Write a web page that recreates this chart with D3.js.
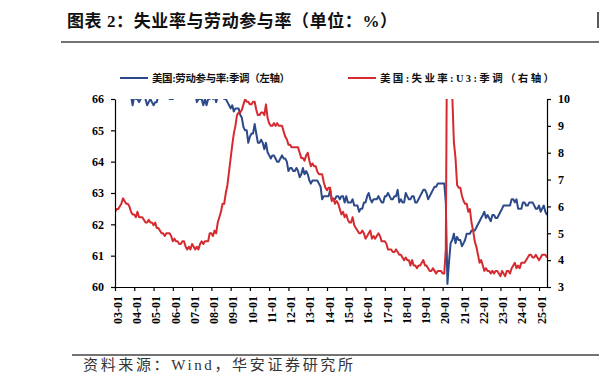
<!DOCTYPE html>
<html><head><meta charset="utf-8">
<script src="https://cdn.jsdelivr.net/npm/d3@7"></script>
<style>
body{margin:0;background:#fff;}
svg{display:block;}
</style></head>
<body>
<svg id="c" width="599" height="392"></svg>
<script>
const startYear = 2003, startMonth = 0;
const tickYears = d3.range(2003, 2026);
// US Labor force participation rate, SA (%), monthly from 2003-01
const lfpr = [
66.4,66.4,66.3,66.4,66.4,66.5,66.2,66.1,66.1,66.1,66.1,65.8,
66.1,66.0,66.0,65.9,66.0,66.1,66.1,66.0,65.8,65.9,66.0,65.9,
65.8,65.9,65.9,66.1,66.1,66.1,66.1,66.2,66.1,66.1,66.0,66.0,
66.0,66.1,66.2,66.1,66.1,66.2,66.1,66.2,66.1,66.2,66.3,66.4,
66.4,66.3,66.2,65.9,66.0,66.0,66.0,65.8,66.0,65.8,66.0,66.0,
66.2,66.0,66.1,65.9,66.1,66.1,66.1,66.1,66.0,66.0,65.9,65.8,
65.7,65.8,65.6,65.7,65.7,65.7,65.5,65.4,65.1,65.0,65.0,64.6,
64.8,64.9,64.9,65.2,64.9,64.6,64.6,64.7,64.6,64.4,64.6,64.3,
64.2,64.1,64.2,64.2,64.1,64.0,64.0,64.1,64.2,64.1,64.1,64.0,
63.7,63.8,63.8,63.7,63.7,63.8,63.7,63.5,63.6,63.8,63.6,63.7,
63.6,63.4,63.3,63.4,63.4,63.4,63.4,63.3,63.2,62.8,62.9,62.9,
62.9,62.9,63.1,62.8,62.8,62.8,62.9,62.9,62.8,62.9,62.9,62.7,
62.9,62.7,62.7,62.7,62.8,62.6,62.6,62.6,62.4,62.5,62.5,62.7,
62.7,62.9,63.0,62.8,62.7,62.8,62.8,62.8,62.9,62.8,62.7,62.7,
62.9,62.9,63.0,62.9,62.8,62.8,62.9,62.9,63.1,62.7,62.8,62.7,
62.7,63.0,62.9,62.8,62.8,62.9,62.9,62.7,62.7,62.8,62.9,63.0,
63.1,63.1,63.0,62.8,62.9,63.0,63.1,63.2,63.2,63.3,63.3,63.3,
63.3,63.3,62.7,60.1,60.8,61.4,61.5,61.7,61.4,61.6,61.5,61.5,
61.3,61.4,61.5,61.7,61.7,61.7,61.8,61.8,61.8,61.9,62.0,62.1,
62.2,62.3,62.4,62.2,62.3,62.2,62.1,62.3,62.3,62.2,62.2,62.3,
62.4,62.5,62.6,62.6,62.6,62.6,62.6,62.8,62.8,62.7,62.8,62.5,
62.5,62.5,62.7,62.7,62.6,62.6,62.7,62.7,62.7,62.6,62.5,62.5,
62.6,62.4,62.5,62.6,62.4,62.3
];
// US Unemployment rate U3, SA (%), monthly from 2003-01
const unrate = [
5.8,5.9,5.9,6.0,6.1,6.3,6.2,6.1,6.1,6.0,5.8,5.7,
5.7,5.6,5.8,5.6,5.6,5.6,5.5,5.4,5.4,5.5,5.4,5.4,
5.3,5.4,5.2,5.2,5.1,5.0,5.0,4.9,5.0,5.0,5.0,4.9,
4.7,4.8,4.7,4.7,4.6,4.6,4.7,4.7,4.5,4.4,4.5,4.4,
4.6,4.5,4.4,4.5,4.4,4.6,4.7,4.6,4.7,4.7,4.7,5.0,
5.0,4.9,5.1,5.0,5.4,5.6,5.8,6.1,6.1,6.5,6.8,7.3,
7.8,8.3,8.7,9.0,9.4,9.5,9.5,9.6,9.8,10.0,9.9,9.9,
9.8,9.8,9.9,9.9,9.6,9.4,9.4,9.5,9.5,9.4,9.8,9.3,
9.1,9.0,9.0,9.1,9.0,9.1,9.0,9.0,9.0,8.8,8.6,8.5,
8.3,8.3,8.2,8.2,8.2,8.2,8.2,8.0,7.8,7.8,7.7,7.9,
8.0,7.7,7.5,7.6,7.5,7.5,7.3,7.2,7.2,7.2,6.9,6.7,
6.6,6.7,6.7,6.2,6.3,6.1,6.2,6.1,5.9,5.7,5.8,5.6,
5.7,5.5,5.4,5.4,5.6,5.3,5.2,5.1,5.0,5.0,5.1,5.0,
4.8,4.9,5.0,5.1,4.8,4.9,4.8,4.9,5.0,4.9,4.7,4.7,
4.7,4.6,4.4,4.4,4.4,4.3,4.3,4.4,4.3,4.2,4.2,4.1,
4.0,4.1,4.0,4.0,3.8,4.0,3.8,3.8,3.7,3.8,3.8,3.9,
4.0,3.8,3.8,3.7,3.6,3.6,3.7,3.6,3.5,3.6,3.6,3.6,
3.5,3.5,4.4,14.8,13.2,11.0,10.2,8.4,7.8,6.8,6.7,6.7,
6.4,6.2,6.1,6.1,5.8,5.9,5.4,5.1,4.7,4.5,4.2,3.9,
4.0,3.8,3.6,3.7,3.6,3.6,3.5,3.6,3.5,3.6,3.6,3.5,
3.4,3.6,3.5,3.4,3.6,3.6,3.5,3.7,3.8,3.9,3.7,3.8,
3.7,3.9,3.9,3.9,4.0,4.1,4.2,4.2,4.1,4.1,4.2,4.1,
4.0,4.1,4.2,4.2,4.2,4.1
];
const leftTicks = [60,61,62,63,64,65,66];
const rightTicks = [3,4,5,6,7,8,9,10];
const titleText = "图表 2：失业率与劳动参与率（单位：%）";
const legendLabels = ["美国:劳动参与率:季调（左轴）", "美国:失业率:U3:季调（右轴）"];
const sourceText = "资料来源：Wind，华安证券研究所";

const colors = ["#2c4a8a", "#d52a2f"];
const svg = d3.select("#c");
const L = 115, R = 547, T = 99, B = 287;
const dates = lfpr.map((_, i) => new Date(startYear, startMonth + i, 1));

const x = d3.scaleTime().domain([dates[0], dates[dates.length - 1]]).range([L, R]);
const yL = d3.scaleLinear().domain([60, 66]).range([B, T]);
const yR = d3.scaleLinear().domain([3, 10]).range([B, T]);

// Title
svg.append("text").attr("x", 67).attr("y", 27)
  .attr("font-family", "'Liberation Serif','Noto Sans CJK SC'")
  .attr("font-weight", "bold").attr("font-size", 17)
  .attr("textLength", 330).attr("lengthAdjust", "spacing")
  .attr("fill", "#111").text(titleText);
svg.append("line").attr("x1", 61).attr("x2", 599).attr("y1", 42).attr("y2", 42)
  .attr("stroke", "#444").attr("stroke-width", 1.5);
svg.append("line").attr("x1", 598).attr("x2", 598).attr("y1", 12).attr("y2", 28)
  .attr("stroke", "#222").attr("stroke-width", 1.5);

// Legend
const legX = [120, 348];
const legW = [138, 174];
legendLabels.forEach((t, i) => {
  svg.append("line").attr("x1", legX[i]).attr("x2", legX[i] + 28)
    .attr("y1", 78).attr("y2", 78).attr("stroke", colors[i]).attr("stroke-width", 2);
  svg.append("text").attr("x", legX[i] + 32).attr("y", 78).attr("dy", "0.35em")
    .attr("font-family", "'Liberation Serif','Noto Sans CJK SC'")
    .attr("textLength", legW[i]).attr("lengthAdjust", "spacing")
    .attr("font-weight", "bold").attr("font-size", 10.5).attr("fill", "#111").text(t);
});

// clip
svg.append("clipPath").attr("id", "clip").append("rect")
  .attr("x", L).attr("y", T).attr("width", R - L).attr("height", B - T);

const gLines = svg.append("g").attr("clip-path", "url(#clip)");
gLines.append("path").datum(lfpr)
  .attr("d", d3.line().x((d, i) => x(dates[i])).y(d => yL(d)))
  .attr("fill", "none").attr("stroke", colors[0]).attr("stroke-width", 2).attr("stroke-linejoin", "round");
gLines.append("path").datum(unrate)
  .attr("d", d3.line().x((d, i) => x(dates[i])).y(d => yR(d)))
  .attr("fill", "none").attr("stroke", colors[1]).attr("stroke-width", 2).attr("stroke-linejoin", "round");

const fontAxis = "'Liberation Serif','Times New Roman',serif";
function styleAxis(g) {
  g.selectAll("path.domain").attr("stroke", "#000").attr("stroke-width", 1.2);
  g.selectAll(".tick line").attr("stroke", "#000").attr("stroke-width", 1.2);
  g.selectAll(".tick text").attr("font-family", fontAxis).attr("font-weight", "bold")
    .attr("font-size", 12).attr("fill", "#000");
}
const gl = svg.append("g").attr("transform", `translate(${L},0)`)
  .call(d3.axisLeft(yL).tickValues(leftTicks).tickFormat(d3.format("d"))
    .tickSize(4).tickPadding(7).tickSizeOuter(0));
styleAxis(gl);
const gr = svg.append("g").attr("transform", `translate(${R},0)`)
  .call(d3.axisRight(yR).tickValues(rightTicks).tickFormat(d3.format("d"))
    .tickSize(4).tickPadding(7).tickSizeOuter(0));
styleAxis(gr);
const gb = svg.append("g").attr("transform", `translate(0,${B})`)
  .call(d3.axisBottom(x).tickValues(tickYears.map(y => new Date(y, 0, 1)))
    .tickFormat(d3.timeFormat("%y-%m")).tickSize(4).tickSizeOuter(0));
styleAxis(gb);
gb.selectAll(".tick text")
  .attr("transform", "rotate(-90)").attr("text-anchor", "end")
  .attr("x", -9).attr("y", 2).attr("dy", "0.35em");

// Source
svg.append("line").attr("x1", 72).attr("x2", 599).attr("y1", 355).attr("y2", 355)
  .attr("stroke", "#444").attr("stroke-width", 1.5);
svg.append("text").attr("x", 83).attr("y", 370)
  .attr("font-family", "'Liberation Serif','Noto Sans CJK SC'")
  .attr("font-size", 15).attr("textLength", 270).attr("lengthAdjust", "spacing")
  .attr("fill", "#333").text(sourceText);
</script>
</body></html>
